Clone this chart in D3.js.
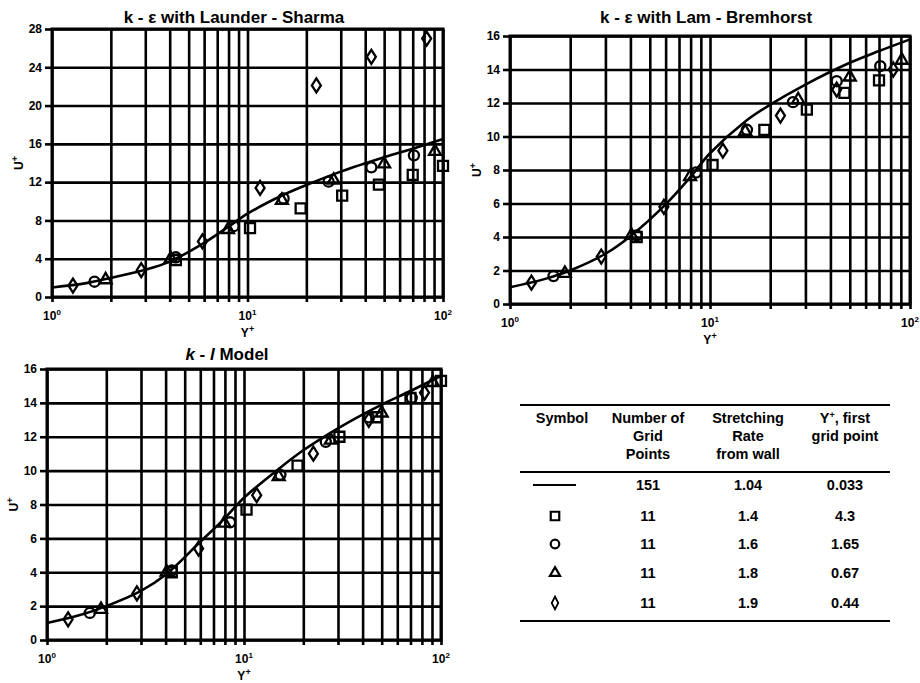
<!DOCTYPE html>
<html>
<head>
<meta charset="utf-8">
<title>U+ versus Y+ for three turbulence models</title>
<script src="https://d3js.org/d3.v7.min.js"></script>
<style>
  body { margin: 0; background: #fff; }
  svg { font-family: "Liberation Sans", Arial, sans-serif; font-weight: bold; }
  .grid line { stroke: #000; stroke-width: 2.6; }
  .grid path { display: none; }
  .ticks path { display: none; }
  .ticks line { stroke: #000; stroke-width: 2.6; }
  .ticks text { font-size: 12px; font-weight: bold; fill: #000; }
</style>
</head>
<body>
<svg width="920" height="683"></svg>
<script>
// Y+ of the coarse-grid points (same grids in every panel)
var yPlusSquare   = [4.3, 10.3, 18.7, 30.5, 47, 70, 100];
var yPlusCircle   = [1.65, 4.3, 8.5, 15.3, 26, 43, 71];
var yPlusTriangle = [1.88, 4.05, 7.95, 15, 27.6, 50, 91];
var yPlusDiamond  = [1.28, 2.86, 5.88, 11.6, 22.5, 43, 82.5];

// Y+ where the fine-grid (151 point) curve is read
var yPlusFine = [1, 1.5, 2, 3, 4, 6, 8, 10, 15, 20, 30, 50, 70, 100];

// k-e with Launder-Sharma : U+
var lsFine     = [1.0, 1.45, 2.0, 2.85, 3.7, 5.65, 7.35, 8.7, 10.6, 11.7, 13.1, 14.6, 15.5, 16.5];
var lsSquare   = [3.85, 7.2, 9.25, 10.6, 11.75, 12.75, 13.7];
var lsCircle   = [1.6, 4.15, 7.4, 10.3, 12.05, 13.55, 14.8];
var lsTriangle = [1.8, 4.0, 7.05, 10.1, 12.2, 13.9, 15.2];
var lsDiamond  = [1.2, 2.8, 5.8, 11.4, 22.1, 25.1, 27.0];

// k-e with Lam-Bremhorst : U+
var lbFine     = [1.0, 1.5, 2.0, 3.0, 4.05, 5.95, 7.6, 9.0, 10.9, 11.9, 13.1, 14.4, 15.1, 15.8];
var lbSquare   = [4.0, 8.3, 10.4, 11.6, 12.6, 13.35, null];
var lbCircle   = [1.67, 4.1, 7.85, 10.4, 12.05, 13.3, 14.2];
var lbTriangle = [1.83, 4.1, 7.6, 10.3, 12.2, 13.55, 14.55];
var lbDiamond  = [1.27, 2.83, 5.8, 9.15, 11.25, 12.8, 14.0];

// k-l model : U+
var klFine     = [1.0, 1.5, 2.0, 2.9, 3.85, 5.8, 7.2, 8.4, 10.1, 11.2, 12.5, 13.9, 14.7, 15.6];
var klSquare   = [4.0, 7.7, 10.3, 12.0, 13.15, 14.3, 15.3];
var klCircle   = [1.6, 4.1, 6.95, 9.75, 11.7, 13.15, 14.3];
var klTriangle = [1.8, 4.0, 6.9, 9.65, 11.8, 13.4, 15.2];
var klDiamond  = [1.22, 2.75, 5.4, 8.55, 11.0, 13.0, 14.6];

// table
var tableSymbols    = ["line", "square", "circle", "triangle", "diamond"];
var tableGridPoints = ["151", "11", "11", "11", "11"];
var tableStretching = ["1.04", "1.4", "1.6", "1.8", "1.9"];
var tableFirstPoint = ["0.033", "4.3", "1.65", "0.67", "0.44"];

var xGridValues = [1, 2, 3, 4, 5, 6, 7, 8, 9, 10, 20, 30, 40, 50, 60, 70, 80, 90, 100];
var decades = [1, 10, 100];

var svg = d3.select("svg");

function markerPath(type, s) {
  s = s || 1;
  if (type == "square") return d3.symbol(d3.symbolSquare, 100 * s * s)();
  if (type == "circle") return d3.symbol(d3.symbolCircle, 80 * s * s)();
  if (type == "triangle") return d3.symbol(d3.symbolTriangle, 62 * s * s)();
  // narrow tall diamond
  return "M0," + (-7 * s) + "L" + (4.5 * s) + ",0L0," + (7 * s) + "L" + (-4.5 * s) + ",0Z";
}

function zipPts(xs, ys) {
  var out = [];
  xs.forEach(function(v, i) { if (ys[i] != null) out.push([v, ys[i]]); });
  return out;
}

function drawPanel(p) {
  var x = d3.scaleLog().domain([1, 100]).range([p.left, p.right]);
  var y = d3.scaleLinear().domain([0, p.yMax]).range([p.bottom, p.top]);
  var w = p.right - p.left, h = p.bottom - p.top;
  var yTicks = d3.range(0, p.yMax + 0.01, p.yStep);

  var g = svg.append("g");

  // horizontal grid
  g.append("g").attr("class", "grid")
    .attr("transform", "translate(" + p.left + ",0)")
    .call(d3.axisLeft(y).tickValues(yTicks).tickSize(-w).tickFormat(""));
  // vertical grid
  g.append("g").attr("class", "grid")
    .attr("transform", "translate(0," + p.bottom + ")")
    .call(d3.axisBottom(x).tickValues(xGridValues).tickSize(-h).tickFormat(""));

  // outward ticks + y labels
  g.append("g").attr("class", "ticks")
    .attr("transform", "translate(" + p.left + ",0)")
    .call(d3.axisLeft(y).tickValues(yTicks).tickSize(7).tickPadding(3));
  g.append("g").attr("class", "ticks")
    .attr("transform", "translate(0," + p.bottom + ")")
    .call(d3.axisBottom(x).tickValues(xGridValues).tickSize(5).tickFormat(""));

  g.append("rect")
    .attr("x", p.left).attr("y", p.top).attr("width", w).attr("height", h)
    .attr("fill", "none").attr("stroke", "#000").attr("stroke-width", 3);

  // decade labels 10^n
  var dl = g.selectAll(".dec").data(decades).enter().append("text")
    .attr("x", function(d) { return x(d); })
    .attr("y", p.bottom + 23)
    .attr("text-anchor", "middle")
    .attr("font-size", 12);
  dl.append("tspan").text("10");
  dl.append("tspan").attr("dy", -5).attr("font-size", 8)
    .text(function(d) { return Math.round(Math.log10(d)); });

  // axis titles
  var xl = g.append("text").attr("x", x(10)).attr("y", p.bottom + 40)
    .attr("text-anchor", "middle").attr("font-size", 12);
  xl.append("tspan").text("Y");
  xl.append("tspan").attr("dy", -5).attr("font-size", 9).text("+");

  var yl = g.append("text")
    .attr("transform", "translate(" + (p.left - 29) + "," + ((p.top + p.bottom) / 2) + ") rotate(-90)")
    .attr("text-anchor", "middle").attr("font-size", 12);
  yl.append("tspan").text("U");
  yl.append("tspan").attr("dy", -5).attr("font-size", 9).text("+");

  // title
  var t = g.append("text").attr("x", p.titleX).attr("y", p.titleY)
    .attr("text-anchor", "middle").attr("font-size", 17);
  p.title.forEach(function(s) {
    t.append("tspan").attr("font-style", s.italic ? "italic" : null).text(s.text);
  });

  // fine-grid curve
  var line = d3.line()
    .x(function(d) { return x(d[0]); })
    .y(function(d) { return y(d[1]); })
    .curve(d3.curveCatmullRom.alpha(0.5));
  g.append("path").datum(zipPts(yPlusFine, p.fine))
    .attr("d", line).attr("fill", "none").attr("stroke", "#000").attr("stroke-width", 2.6);

  // coarse-grid markers
  var sets = [
    ["square", yPlusSquare, p.square],
    ["circle", yPlusCircle, p.circle],
    ["triangle", yPlusTriangle, p.triangle],
    ["diamond", yPlusDiamond, p.diamond]
  ];
  sets.forEach(function(s) {
    g.selectAll(null).data(zipPts(s[1], s[2])).enter().append("path")
      .attr("d", markerPath(s[0]))
      .attr("transform", function(d) { return "translate(" + x(d[0]) + "," + y(d[1]) + ")"; })
      .attr("fill", "none").attr("stroke", "#000").attr("stroke-width", 2.3);
  });
}

drawPanel({
  left: 52, right: 443, top: 29, bottom: 297, yMax: 28, yStep: 4,
  titleX: 234, titleY: 23,
  title: [{text: "k - \u03b5 with Launder - Sharma"}],
  fine: lsFine, square: lsSquare, circle: lsCircle, triangle: lsTriangle, diamond: lsDiamond
});
drawPanel({
  left: 510, right: 910, top: 36, bottom: 304, yMax: 16, yStep: 2,
  titleX: 706, titleY: 23,
  title: [{text: "k - \u03b5 with Lam - Bremhorst"}],
  fine: lbFine, square: lbSquare, circle: lbCircle, triangle: lbTriangle, diamond: lbDiamond
});
drawPanel({
  left: 47, right: 441, top: 369, bottom: 640, yMax: 16, yStep: 2,
  titleX: 227, titleY: 360,
  title: [{text: "k", italic: true}, {text: " - "}, {text: "l", italic: true}, {text: " Model"}],
  fine: klFine, square: klSquare, circle: klCircle, triangle: klTriangle, diamond: klDiamond
});

// ---- table ----
var tb = svg.append("g").attr("font-size", 14.5);
var colX = [562, 648, 748, 845];
[405, 472, 621].forEach(function(yy) {
  tb.append("line").attr("x1", 520).attr("x2", 890).attr("y1", yy).attr("y2", yy)
    .attr("stroke", "#000").attr("stroke-width", 2.2);
});

var header = [["Symbol"], ["Number of", "Grid", "Points"], ["Stretching", "Rate", "from wall"], ["Y+", "grid point"]];
var headY = [423, 441, 459];
header.forEach(function(lines, c) {
  lines.forEach(function(s, r) {
    var t = tb.append("text").attr("x", colX[c]).attr("y", headY[r]).attr("text-anchor", "middle");
    if (s == "Y+") {
      t.append("tspan").text("Y");
      t.append("tspan").attr("dy", -5).attr("font-size", 9).text("+");
      t.append("tspan").attr("dy", 5).text(", first");
    } else {
      t.text(s);
    }
  });
});

var rowY = [485, 516, 544, 573, 603];
tableSymbols.forEach(function(s, i) {
  if (s == "line") {
    tb.append("line").attr("x1", 533).attr("x2", 576).attr("y1", rowY[i]).attr("y2", rowY[i])
      .attr("stroke", "#000").attr("stroke-width", 2.2);
  } else {
    tb.append("path").attr("d", markerPath(s, s == "diamond" ? 0.9 : 0.85))
      .attr("transform", "translate(555," + rowY[i] + ")" + (s == "diamond" ? " scale(0.8,1)" : ""))
      .attr("fill", "none").attr("stroke", "#000").attr("stroke-width", 2.2);
  }
  [tableGridPoints, tableStretching, tableFirstPoint].forEach(function(col, c) {
    tb.append("text").attr("x", colX[c + 1]).attr("y", rowY[i] + 5)
      .attr("text-anchor", "middle").text(col[i]);
  });
});
</script>
</body>
</html>
